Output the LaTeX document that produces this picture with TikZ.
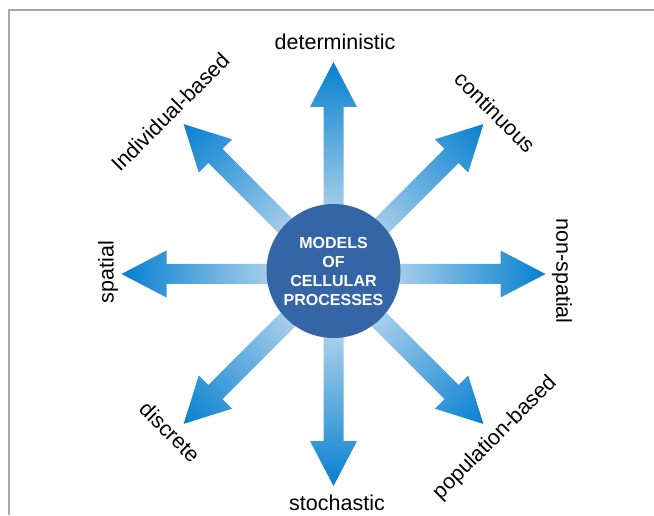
\documentclass[tikz,border=0pt]{standalone}
\usepackage{fontspec}
\setmainfont{Liberation Sans}
\usepackage{tikz}
\definecolor{hubblue}{HTML}{3465A6}
\definecolor{tipblue}{HTML}{0680D0}
\definecolor{paleblue}{HTML}{AAD0EA}
\definecolor{framegray}{HTML}{A8A8A8}

\begin{document}
\begin{tikzpicture}[x=1pt,y=1pt,
  lbl/.style={font=\fontsize{21.5}{24}\selectfont,inner sep=0pt},
  hub/.style={circle,fill=hubblue,minimum size=134pt,inner sep=0pt,
    text=white,align=center,font=\fontsize{16}{19}\selectfont\bfseries}]
  \useasboundingbox (0,0) rectangle (654,515);
  % frame edges
  \draw[framegray,line width=1.5pt] (9,0)--(9,505)--(654,505);
  \coordinate (c) at (333.5,241);
  % shaded arrows around the hub
  \foreach \ang in {0,45,...,315} {
    \begin{scope}[transform canvas={shift={(c)},rotate=\ang}]
      \shade[left color=paleblue,right color=tipblue]
        (60,-10)--(167,-10)--(167,-23.5)--(212,0)--(167,23.5)--(167,10)--(60,10)--cycle;
    \end{scope}
  }
  \node[hub] (models) at (333.5,244) {MODELS\\OF\\CELLULAR\\PROCESSES};
  % labels
  \node[lbl] (det) at (335,473) {deterministic};
  \node[lbl] (sto) at (337,12) {stochastic};
  \node[lbl,rotate=90] (spa) at (108,243) {spatial};
  \node[lbl,rotate=-90] (nsp) at (562,244) {non-spatial};
  \node[lbl,rotate=45] (ind) at (170,403) {Individual-based};
  \node[lbl,rotate=-45] (con) at (495,403) {continuous};
  \node[lbl,rotate=-45] (dis) at (170,83) {discrete};
  \node[lbl,rotate=45] (pop) at (495,77) {population-based};
\end{tikzpicture}
\end{document}
